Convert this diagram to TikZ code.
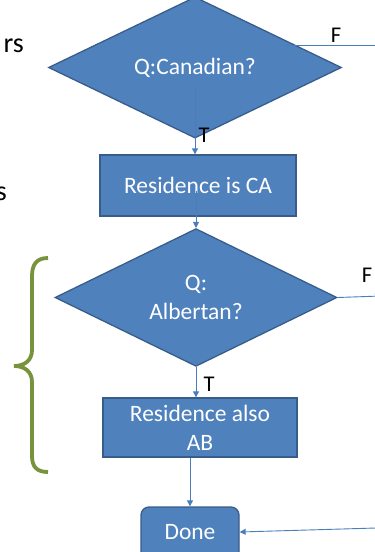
\documentclass[tikz,border=0pt]{standalone}
\usepackage{fontspec}
\setmainfont{Carlito}
\usetikzlibrary{shapes.geometric,arrows.meta,calc}
\definecolor{boxfill}{HTML}{4F81BD}
\definecolor{boxline}{HTML}{385D8A}
\definecolor{conn}{HTML}{4A7EBB}
\definecolor{bracecol}{HTML}{77933C}
\tikzset{
  shapebase/.style={fill=boxfill, draw=boxline, line width=1.3pt, text=white, inner sep=0pt, font=\fontsize{23.5}{29}\selectfont, align=center},
  decision/.style={shapebase, diamond},
  procbox/.style={shapebase, rectangle},
  donebox/.style={shapebase, rectangle, rounded corners=8pt},
  conline/.style={draw=conn, line width=0.9pt},
  conarrow/.style={conline, -{Triangle[width=6pt,length=6pt]}},
  lbl/.style={text=black, inner sep=0pt, font=\fontsize{22.5}{26}\selectfont},
  side/.style={text=black, inner sep=0pt, font=\fontsize{28}{32}\selectfont},
  bracestyle/.style={draw=bracecol, line width=3.8pt}
}
\begin{document}
\begin{tikzpicture}[x=1pt,y=-1pt]
\useasboundingbox (0,0) rectangle (375,552);
\clip (0,0) rectangle (375,552);
% side texts (cut at the left edge, as in the reference)
\node[side, anchor=base east] (rs) at (24,52) {rs};
\node[side, anchor=base east] (s2) at (7,200) {s};
% brace
\draw[bracestyle] (48,258) .. controls (37,258) and (32,264) .. (32,276) -- (32,350)
  .. controls (32,360) and (25,366) .. (14,366)
  .. controls (25,366) and (32,372) .. (32,382) -- (32,456)
  .. controls (32,467) and (37,472) .. (48,472);
% shapes
\node[decision, minimum width=293pt, minimum height=111pt] (d1) at (195,67.5) {Q:Canadian?};
\node[procbox, minimum width=196pt, minimum height=61pt] (r1) at (198,185.5) {Residence is CA};
\node[decision, minimum width=282pt, minimum height=105pt] (d2) at (196,297.5) {Q:\\Albertan?};
\node[procbox, minimum width=194pt, minimum height=59pt] (r2) at (200,427.5) {Residence also\\AB};
\node[donebox, minimum width=98pt, minimum height=54pt] (done) at (190,534) {};
\node[text=white, inner sep=0pt, font=\fontsize{23.5}{29}\selectfont] (donetext) at (190,532) {Done};
% free ends
\coordinate (f1start) at ($(d1.north)!0.6!(d1.east)$);
\coordinate (f1end) at (376,45);
\coordinate (f2end) at (381,296);
\coordinate (inend) at (376,528);
% connectors
\draw[conarrow] ($(d1.center)+(0,19)$) -- (r1.north -| d1.center);
\draw[conarrow] ($(d2.north |- r1.center)+(0,5)$) -- (d2.north);
\draw[conarrow] (d2.south) -- (r2.north -| d2.south);
\draw[conarrow] (r2.south -| done.north) -- (done.north);
\draw[conline] (f1start |- f1end) -- (f1end);
\draw[conarrow] (d2.east) -- (f2end);
\draw[conarrow] (inend) -- (done.east |- donetext);
% labels
\node[lbl] (t1) at (204,135) {T};
\node[lbl] (t2) at (209,384) {T};
\node[lbl] (fl1) at (336,35) {F};
\node[lbl] (fl2) at (367,275) {F};
\end{tikzpicture}
\end{document}
